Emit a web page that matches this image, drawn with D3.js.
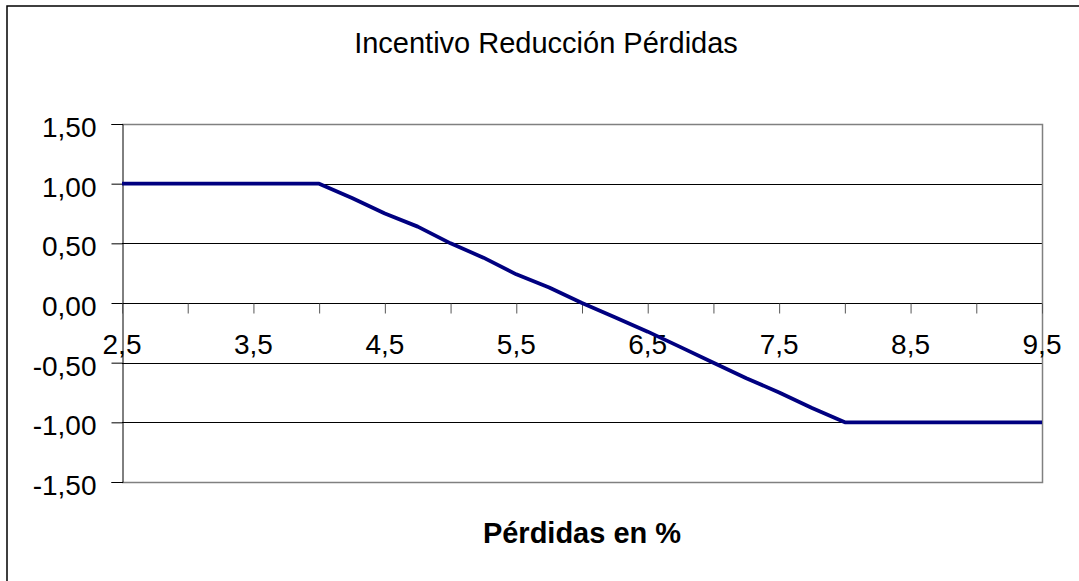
<!DOCTYPE html>
<html>
<head>
<meta charset="utf-8">
<script src="https://cdn.jsdelivr.net/npm/d3@7"></script>
<style>
  body { margin: 0; background: #fff; }
  svg { display: block; font-family: "Liberation Sans", Arial, sans-serif; }
</style>
</head>
<body>
<script>
// Incentivo vs. pérdidas (%)
const perdidas = [2.5, 2.75, 3, 3.25, 3.5, 3.75, 4, 4.25, 4.5, 4.75, 5, 5.25, 5.5, 5.75, 6,
  6.25, 6.5, 6.75, 7, 7.25, 7.5, 7.75, 8, 8.25, 8.5, 8.75, 9, 9.25, 9.5];
const incentivo = [1, 1, 1, 1, 1, 1, 1, 0.88, 0.75, 0.64, 0.5, 0.38, 0.24, 0.13, 0,
  -0.12, -0.24, -0.37, -0.5, -0.63, -0.75, -0.88, -1, -1, -1, -1, -1, -1, -1];
const xTicks = [2.5, 3, 3.5, 4, 4.5, 5, 5.5, 6, 6.5, 7, 7.5, 8, 8.5, 9, 9.5];
const xLabels = [2.5, 3.5, 4.5, 5.5, 6.5, 7.5, 8.5, 9.5];
const yTicks = [-1.5, -1, -0.5, 0, 0.5, 1, 1.5];

const W = 1079, H = 581;
const margin = {top: 124, right: 37, bottom: 99, left: 122};
const w = W - margin.left - margin.right,
  h = H - margin.top - margin.bottom;

const comma = n => n.toFixed(2).replace('.', ',');
const comma1 = n => n.toFixed(1).replace('.', ',');

const svg = d3.select(document.body).append('svg')
  .attr('width', W)
  .attr('height', H);

// outer chart border
svg.append('rect')
  .attr('x', 7).attr('y', 6)
  .attr('width', W + 20).attr('height', H + 20)
  .attr('fill', 'none')
  .attr('stroke', '#000')
  .attr('stroke-width', 1.5);

svg.append('text')
  .attr('x', 546).attr('y', 53)
  .attr('text-anchor', 'middle')
  .style('font-size', '29px')
  .text('Incentivo Reducción Pérdidas');

const g = svg.append('g')
  .attr('transform', `translate(${margin.left},${margin.top})`);

const x = d3.scaleLinear().domain([2.5, 9.5]).range([0, w]);
const y = d3.scaleLinear().domain([-1.5, 1.5]).range([h, 0]);

// gridlines
g.selectAll('.grid')
  .data(yTicks.filter(d => Math.abs(d) < 1.5))
  .enter().append('line')
  .attr('class', 'grid')
  .attr('x1', 0).attr('x2', w)
  .attr('y1', d => Math.round(y(d)) + 0.5)
  .attr('y2', d => Math.round(y(d)) + 0.5)
  .attr('stroke', '#000');

// plot area border (top, right, bottom)
g.append('path')
  .attr('d', `M0,${y(1.5) + 0.5}H${Math.round(w) + 0.5}V${Math.round(y(-1.5)) + 0.5}H0`)
  .attr('fill', 'none')
  .attr('stroke', '#808080')
  .attr('stroke-width', 1.5);

// y axis
const yAxis = g.append('g')
  .attr('transform', 'translate(0.5,0)')
  .call(d3.axisLeft(y).tickValues(yTicks).tickFormat(comma).tickSize(11).tickPadding(15));
yAxis.select('.domain').attr('stroke', '#000');
yAxis.selectAll('.tick line').attr('stroke', '#000');
yAxis.selectAll('.tick text')
  .attr('dy', '0.45em')
  .style('font-size', '28px')
  .style('font-family', '"Liberation Sans", Arial, sans-serif')
  .attr('fill', '#000');

// x axis crosses at 0
const xAxis = g.append('g')
  .attr('transform', `translate(0,${Math.round(y(0)) + 0.5})`)
  .call(d3.axisBottom(x).tickValues(xTicks).tickSize(10).tickFormat(''));
xAxis.select('.domain').remove();
xAxis.selectAll('.tick line').attr('stroke', '#555');

g.selectAll('.xlabel')
  .data(xLabels)
  .enter().append('text')
  .attr('class', 'xlabel')
  .attr('x', d => x(d))
  .attr('y', y(0) + 51)
  .attr('text-anchor', 'middle')
  .style('font-size', '28px')
  .text(comma1);

const line = d3.line()
  .x((d, i) => x(perdidas[i]))
  .y(d => y(d));

g.append('path')
  .datum(incentivo)
  .attr('d', line)
  .attr('fill', 'none')
  .attr('stroke', '#000080')
  .attr('stroke-width', 3.8)
  .attr('stroke-linejoin', 'round');

svg.append('text')
  .attr('x', margin.left + w / 2).attr('y', 543)
  .attr('text-anchor', 'middle')
  .style('font-size', '29px')
  .style('font-weight', 'bold')
  .text('Pérdidas en %');
</script>
</body>
</html>
